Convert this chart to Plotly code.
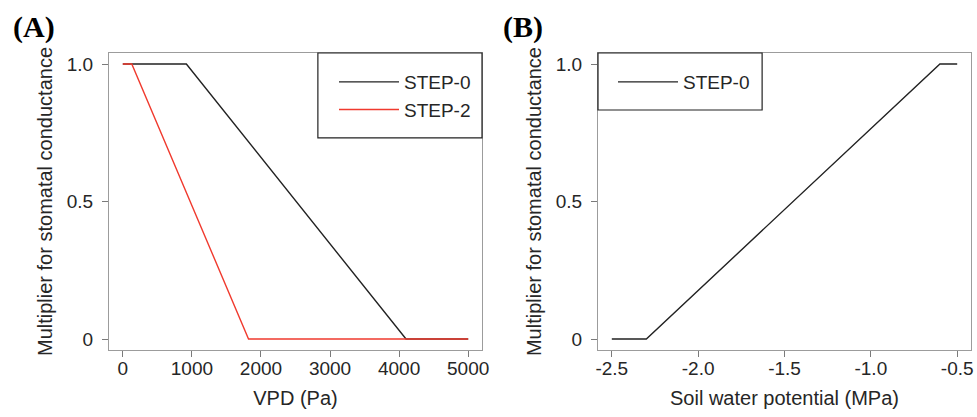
import plotly.graph_objects as go

# ---- data ----
vpd_step0 = [0, 920, 4100, 5000]
mult_step0_vpd = [1, 1, 0, 0]
vpd_step2 = [0, 130, 1820, 5000]
mult_step2_vpd = [1, 1, 0, 0]
swp_step0 = [-2.5, -2.3, -0.6, -0.5]
mult_step0_swp = [0, 0, 1, 1]

x_ticks_a = [0, 1000, 2000, 3000, 4000, 5000]
x_ticklabels_a = ["0", "1000", "2000", "3000", "4000", "5000"]
x_ticks_b = [-2.5, -2.0, -1.5, -1.0, -0.5]
x_ticklabels_b = ["-2.5", "-2.0", "-1.5", "-1.0", "-0.5"]
y_ticks = [0, 0.5, 1.0]
y_ticklabels = ["0", "0.5", "1.0"]

FONT = "Liberation Sans, Arial, sans-serif"
AXC = "#9c9c9c"
TICKC = "#7a7a7a"
TXT = "#262626"

fig = go.Figure()
fig.add_trace(go.Scatter(x=vpd_step0, y=mult_step0_vpd, mode="lines", name="STEP-0",
                         line=dict(color="#222222", width=1.4), xaxis="x", yaxis="y", legend="legend"))
fig.add_trace(go.Scatter(x=vpd_step2, y=mult_step2_vpd, mode="lines", name="STEP-2",
                         line=dict(color="#f03a2e", width=1.4), xaxis="x", yaxis="y", legend="legend"))
fig.add_trace(go.Scatter(x=swp_step0, y=mult_step0_swp, mode="lines", name="STEP-0",
                         line=dict(color="#222222", width=1.4), xaxis="x2", yaxis="y2", legend="legend2"))

ydom = [67 / 417, 364 / 417]
common_ax = dict(showline=True, linecolor=AXC, linewidth=1.2, mirror=True, ticks="outside",
                 ticklen=6, tickcolor=TICKC, tickwidth=1.2, showgrid=False, zeroline=False,
                 automargin=False,
                 tickfont=dict(family=FONT, size=19, color=TXT),
                 title_font=dict(family=FONT, size=20, color=TXT))
x_ax = dict(common_ax, ticklabelstandoff=-5)
y_ax = dict(common_ax, ticklabelstandoff=5)

fig.update_layout(
    width=977, height=417, margin=dict(l=0, r=0, t=0, b=0, autoexpand=False),
    paper_bgcolor="white", plot_bgcolor="white",
    xaxis=dict(domain=[109 / 977, 482 / 977], range=[-200, 5200], tickvals=x_ticks_a,
               ticktext=x_ticklabels_a, anchor="y", title=dict(text="VPD (Pa)", standoff=13), **x_ax),
    yaxis=dict(domain=ydom, range=[-0.04, 1.04], tickvals=y_ticks, ticktext=y_ticklabels,
               anchor="x", title=dict(text="Multiplier for stomatal conductance", standoff=8), **y_ax),
    xaxis2=dict(domain=[598 / 977, 971 / 977], range=[-2.58, -0.42], tickvals=x_ticks_b,
                ticktext=x_ticklabels_b, anchor="y2",
                title=dict(text="Soil water potential (MPa)", standoff=13), **x_ax),
    yaxis2=dict(domain=ydom, range=[-0.04, 1.04], tickvals=y_ticks, ticktext=y_ticklabels,
                anchor="x2", title=dict(text="Multiplier for stomatal conductance", standoff=8), **y_ax),
    legend=dict(x=334 / 977, y=1 - 63 / 417, xanchor="left", yanchor="top", bgcolor="rgba(0,0,0,0)",
                borderwidth=0, font=dict(family=FONT, size=19, color=TXT), itemwidth=60,
                tracegroupgap=0),
    legend2=dict(x=613 / 977, y=1 - 63 / 417, xanchor="left", yanchor="top", bgcolor="rgba(0,0,0,0)",
                 borderwidth=0, font=dict(family=FONT, size=19, color=TXT), itemwidth=60),
    showlegend=True,
)

# legend frames
fig.add_shape(type="rect", xref="x domain", yref="y domain", x0=0.56, x1=1.0, y0=0.714, y1=1.0,
              line=dict(color="#222222", width=1.2), fillcolor="rgba(0,0,0,0)")
fig.add_shape(type="rect", xref="x2 domain", yref="y2 domain", x0=0.0, x1=0.44, y0=0.808, y1=1.0,
              line=dict(color="#222222", width=1.2), fillcolor="rgba(0,0,0,0)")

# panel labels
for txt, xp in [("(A)", 11 / 977), ("(B)", 501 / 977)]:
    fig.add_annotation(text=txt, xref="paper", yref="paper", x=xp, y=1 - 27 / 417,
                       xanchor="left", yanchor="middle", showarrow=False,
                       font=dict(family="Liberation Serif, Times New Roman, serif", size=30,
                                 color="black", weight="bold"))

fig.write_html("out.html", config={"displayModeBar": False},
               post_script="document.body.style.margin='0';")
